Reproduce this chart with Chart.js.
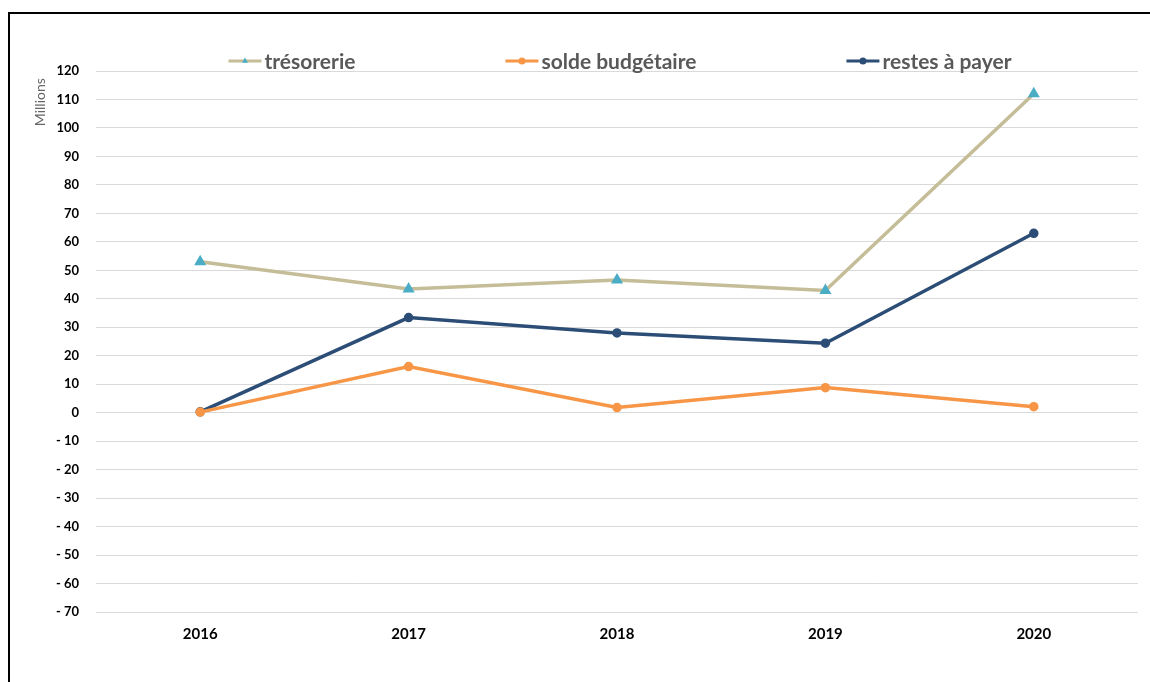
<!DOCTYPE html>
<html lang="fr">
<head>
    <meta charset="UTF-8">
    <title>Trésorerie, solde budgétaire et restes à payer</title>
    <style>
        html, body {
            margin: 0;
            padding: 0;
            background: #fff;
            overflow: hidden;
        }
        #frame {
            position: absolute;
            left: 8px;
            top: 12px;
            width: 1200px;
            height: 700px;
            border-left: 2px solid #000;
            border-top: 2px solid #000;
        }
        #wrap {
            position: absolute;
            left: 0;
            top: 0;
            width: 1150px;
            height: 682px;
        }
    </style>
    <script src="https://cdn.jsdelivr.net/npm/chart.js"></script>
</head>
<body>
    <div id="frame"></div>
    <div id="wrap"><canvas id="chart"></canvas></div>

    <script>
        // Années et séries (en millions)
        const years = ['2016', '2017', '2018', '2019', '2020'];
        const tresorerie = [53.0, 43.4, 46.6, 42.9, 112.0];
        const soldeBudgetaire = [0.2, 16.2, 1.8, 8.8, 2.1];
        const restesAPayer = [0.3, 33.4, 28.0, 24.4, 63.0];

        const seriesNames = ['trésorerie', 'solde budgétaire', 'restes à payer'];

        function formatTick(v) {
            if (v === 0) return '0';
            return v < 0 ? '- ' + Math.abs(v) : String(v);
        }

        // Légende dessinée à la main : trait + marqueur, espacement large comme dans Excel
        const lineLegend = {
            id: 'lineLegend',
            afterDraw(chart) {
                const ctx = chart.ctx;
                const gap = 150, iconW = 33, textGap = 3;
                ctx.save();
                ctx.font = 'bold 21px Lato';
                ctx.textBaseline = 'middle';
                const sets = chart.data.datasets;
                const widths = sets.map(ds => iconW + textGap + ctx.measureText(ds.label).width);
                const total = widths.reduce((a, b) => a + b, 0) + gap * (sets.length - 1);
                const area = chart.chartArea;
                let x = (area.left + area.right) / 2 - total / 2 + 3;
                const y = 61;
                sets.forEach((ds, i) => {
                    ctx.strokeStyle = ds.borderColor;
                    ctx.lineWidth = 3;
                    ctx.beginPath();
                    ctx.moveTo(x, y);
                    ctx.lineTo(x + iconW, y);
                    ctx.stroke();
                    ctx.fillStyle = ds.pointBackgroundColor;
                    Chart.helpers.drawPoint(ctx, {
                        pointStyle: ds.pointStyle, radius: 3.5, rotation: 0, borderWidth: 0
                    }, x + iconW / 2, y);
                    ctx.fillStyle = '#595959';
                    ctx.fillText(ds.label, x + iconW + textGap, y + 1);
                    x += widths[i] + gap;
                });
                ctx.restore();
            }
        };

        new Chart(document.getElementById('chart'), {
            type: 'line',
            data: {
                labels: years,
                datasets: [
                    {
                        label: seriesNames[0],
                        data: tresorerie,
                        borderColor: '#C4BD97',
                        pointBackgroundColor: '#4BACC6',
                        pointBorderColor: '#4BACC6',
                        pointStyle: 'triangle',
                        pointRadius: 3.5,
                        borderWidth: 3.5
                    },
                    {
                        label: seriesNames[1],
                        data: soldeBudgetaire,
                        borderColor: '#F79646',
                        pointBackgroundColor: '#F79646',
                        pointBorderColor: '#F79646',
                        pointStyle: 'circle',
                        pointRadius: 3,
                        borderWidth: 3.5
                    },
                    {
                        label: seriesNames[2],
                        data: restesAPayer,
                        borderColor: '#2C4D75',
                        pointBackgroundColor: '#2C4D75',
                        pointBorderColor: '#2C4D75',
                        pointStyle: 'circle',
                        pointRadius: 3,
                        borderWidth: 3.5
                    }
                ]
            },
            options: {
                responsive: true,
                maintainAspectRatio: false,
                animation: false,
                layout: {
                    padding: { left: 0, right: 12, top: 71, bottom: 0 }
                },
                plugins: {
                    legend: { display: false },
                    tooltip: { enabled: false }
                },
                scales: {
                    x: {
                        offset: true,
                        grid: { display: false },
                        border: { display: false },
                        ticks: {
                            color: '#000',
                            padding: 5,
                            font: { family: 'Lato', size: 15, weight: 'bold' }
                        },
                        afterFit(scale) { scale.height = 70; }
                    },
                    y: {
                        min: -70,
                        max: 120,
                        grid: { color: '#D9D9D9', lineWidth: 1, drawTicks: false },
                        border: { display: false },
                        ticks: {
                            stepSize: 10,
                            color: '#000',
                            padding: 17,
                            font: { family: 'Lato', size: 13, weight: 'bold' },
                            callback: formatTick
                        },
                        title: {
                            display: true,
                            text: 'Millions  ',
                            align: 'end',
                            color: '#666666',
                            padding: { top: 32, bottom: 0 },
                            font: { family: 'Lato', size: 14 }
                        },
                        afterFit(scale) { scale.width = 96; }
                    }
                }
            },
            plugins: [lineLegend]
        });
    </script>
</body>
</html>
